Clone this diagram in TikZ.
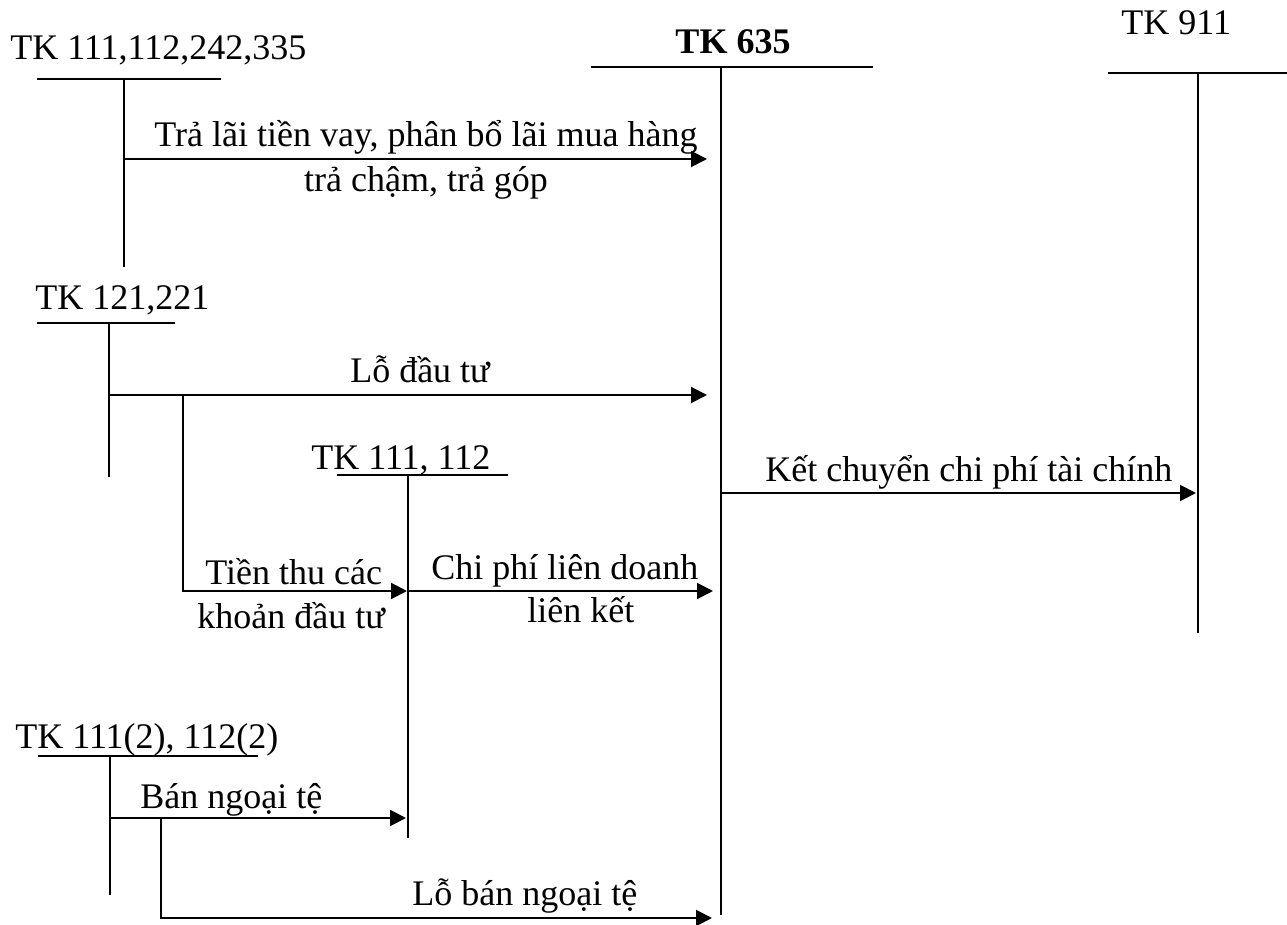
\documentclass[tikz,border=0pt]{standalone}
\usepackage{fontspec}
\setmainfont{Liberation Serif}
\usetikzlibrary{arrows.meta}
\begin{document}
\begin{tikzpicture}[x=0.5pt,y=-0.5pt,
  lbl/.style={inner sep=0pt,font=\fontsize{18}{21}\selectfont},
  tline/.style={line width=1pt},
  flow/.style={line width=1pt,-{Triangle[length=8pt,width=8pt]}},
  branch/.style={line width=1pt}]
\useasboundingbox (0,0) rectangle (1287,925);
% T-account headers
\node[lbl,anchor=base west] (tkA) at (10,60) {TK 111,112,242,335};
\node[lbl,anchor=base,font=\fontsize{18}{21}\selectfont\bfseries] (tkM) at (733,54) {TK 635};
\node[lbl,anchor=base west] (tkK) at (1121,35) {TK 911};
\node[lbl,anchor=base west] (tkB) at (35,310) {TK 121,221};
\node[lbl,anchor=base west] (tkC) at (311,470) {TK 111, 112};
\node[lbl,anchor=base west] (tkD) at (15,748) {TK 111(2), 112(2)};
% T-account coordinates
\coordinate (A1) at (37,79);   \coordinate (A2) at (221,79);
\coordinate (At) at (124,79);  \coordinate (Ab) at (124,267);
\coordinate (M1) at (591,67);  \coordinate (M2) at (873,67);
\coordinate (Mt) at (721,67);  \coordinate (Mb) at (721,915);
\coordinate (K1) at (1108,73); \coordinate (K2) at (1287,73);
\coordinate (Kt) at (1198,73); \coordinate (Kb) at (1198,633);
\coordinate (B1) at (37,323);  \coordinate (B2) at (175,323);
\coordinate (Bt) at (109,323); \coordinate (Bb) at (109,477);
\coordinate (C1) at (337,475); \coordinate (C2) at (508,475);
\coordinate (Ct) at (408,475); \coordinate (Cb) at (408,838);
\coordinate (D1) at (38,756);  \coordinate (D2) at (258,756);
\coordinate (Dt) at (110,756); \coordinate (Db) at (110,895);
\foreach \a in {A,M,K,B,C,D}{
  \draw[tline] (\a1) -- (\a2);
  \draw[tline] (\a t) -- (\a b);
}
% flow points
\coordinate (a0) at (124,159); \coordinate (a1) at (707,159);
\coordinate (b0) at (109,395); \coordinate (b1) at (707,395);
\coordinate (bb) at (183,395); \coordinate (bc) at (183,591); \coordinate (bd) at (407,591);
\coordinate (c0) at (408,591); \coordinate (c1) at (713,591);
\coordinate (m0) at (721,493); \coordinate (m1) at (1196,493);
\coordinate (d0) at (110,818); \coordinate (d1) at (406,818);
\coordinate (db) at (161,818); \coordinate (dc) at (161,918); \coordinate (dd) at (712,918);
\draw[flow] (a0) -- (a1);
\draw[flow] (b0) -- (b1);
\draw[flow] (bb) -- (bc) -- (bd);
\draw[flow] (c0) -- (c1);
\draw[flow] (m0) -- (m1);
\draw[flow] (d0) -- (d1);
\draw[flow] (db) -- (dc) -- (dd);
% labels
\node[lbl,anchor=base] (la1) at (426,147) {Trả lãi tiền vay, phân bổ lãi mua hàng};
\node[lbl,anchor=base] (la2) at (426,192) {trả chậm, trả góp};
\node[lbl,anchor=base] (lb) at (420,383) {Lỗ đầu tư};
\node[lbl,anchor=base west] (lc1) at (205,585) {Tiền thu các};
\node[lbl,anchor=base west] (lc2) at (197,628) {khoản đầu tư};
\node[lbl,anchor=base west] (ld1) at (431,580) {Chi phí liên doanh};
\node[lbl,anchor=base west] (ld2) at (527,623) {liên kết};
\node[lbl,anchor=base west] (lm) at (765,482) {Kết chuyển chi phí tài chính};
\node[lbl,anchor=base west] (le) at (140,808) {Bán ngoại tệ};
\node[lbl,anchor=base west] (lf) at (412,905) {Lỗ bán ngoại tệ};
\end{tikzpicture}
\end{document}
